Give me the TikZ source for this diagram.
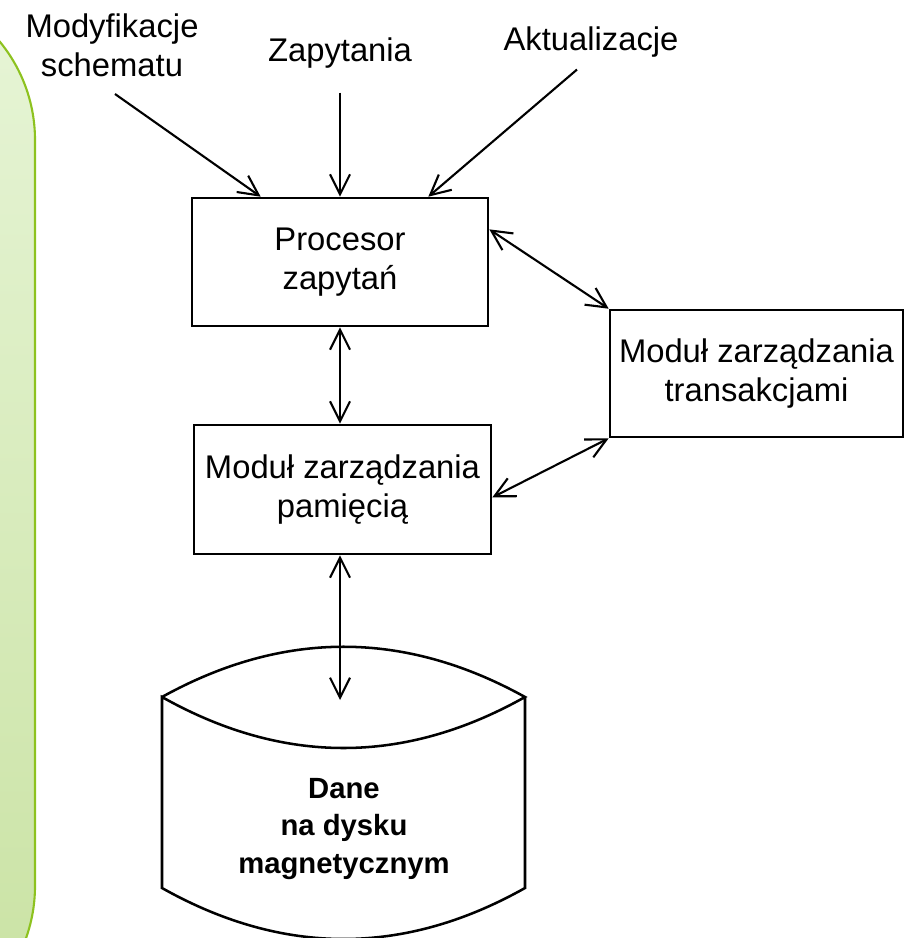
\documentclass[tikz,border=0pt]{standalone}
\usepackage{fontspec}
\setmainfont{Liberation Sans}
\usetikzlibrary{arrows.meta, calc}
\definecolor{panelline}{HTML}{8DC21F}
\definecolor{paneltop}{HTML}{E7F5D7}
\definecolor{panelbot}{HTML}{C9E2A2}
\begin{document}
\begin{tikzpicture}[x=0.025cm, y=-0.025cm,
    box/.style={draw, line width=1.8pt, inner sep=0pt, align=center},
    lab/.style={inner sep=0pt, align=center},
    arr/.style={line width=1.5pt, -{Straight Barb[length=5mm, width=5mm]}},
    darr/.style={line width=1.5pt, {Straight Barb[length=5mm, width=5mm]}-{Straight Barb[length=5mm, width=5mm]}},
    font=\fontsize{23.3}{28}\selectfont]
    \useasboundingbox (0,0) rectangle (904,938);
    \begin{scope}
        \clip (0,0) rectangle (904,938);
        \draw[line width=1.5pt, panelline, top color=paneltop, bottom color=panelbot, rounded corners=3.875cm] (-400,-15) rectangle (35,1041);
    \end{scope}
    \node[box, minimum width=7.4cm, minimum height=3.2cm] (proc) at (340,262) {Procesor\\zapytań};
    \node[box, minimum width=7.425cm, minimum height=3.225cm] (pam) at (342.5,489.5) {Moduł zarządzania\\pamięcią};
    \node[box, minimum width=7.325cm, minimum height=3.175cm] (trans) at (756.5,373.5) {Moduł zarządzania\\transakcjami};
    \node[lab] (mod) at (112,45) {Modyfikacje\\schematu};
    \node[lab] (zap) at (340,53) {Zapytania};
    \node[lab] (akt) at (591,42) {Aktualizacje};
    \draw[line width=1.8pt] (162,697) .. controls (283,630) and (404,630) .. (525,697)
        .. controls (404,765) and (283,765) .. (162,697) -- (162,888)
        .. controls (283,956) and (404,956) .. (525,888) -- (525,697);
    \node[lab, font=\fontsize{20.8}{26.5}\selectfont\bfseries] (disk) at (344,829) {Dane\\na dysku\\magnetycznym};
    \coordinate (disktop) at (340,700);
    \draw[arr] ($(mod.south)+(3,17)$) -- ($(proc.north west)+(70,0)$);
    \draw[arr] ($(zap.south)+(0,24)$) -- (proc.north);
    \draw[arr] ($(akt.south)+(-14,12)$) -- ($(proc.north east)+(-61,0)$);
    \draw[darr] (proc.south) -- (proc.south |- pam.north);
    \draw[darr] (pam.south -| proc.south) -- (disktop);
    \draw[darr] ($(proc.north east)!0.25!(proc.south east)$) -- (trans.north west);
    \draw[darr] ($(pam.north east)!0.56!(pam.south east)$) -- (trans.south west);
\end{tikzpicture}
\end{document}
